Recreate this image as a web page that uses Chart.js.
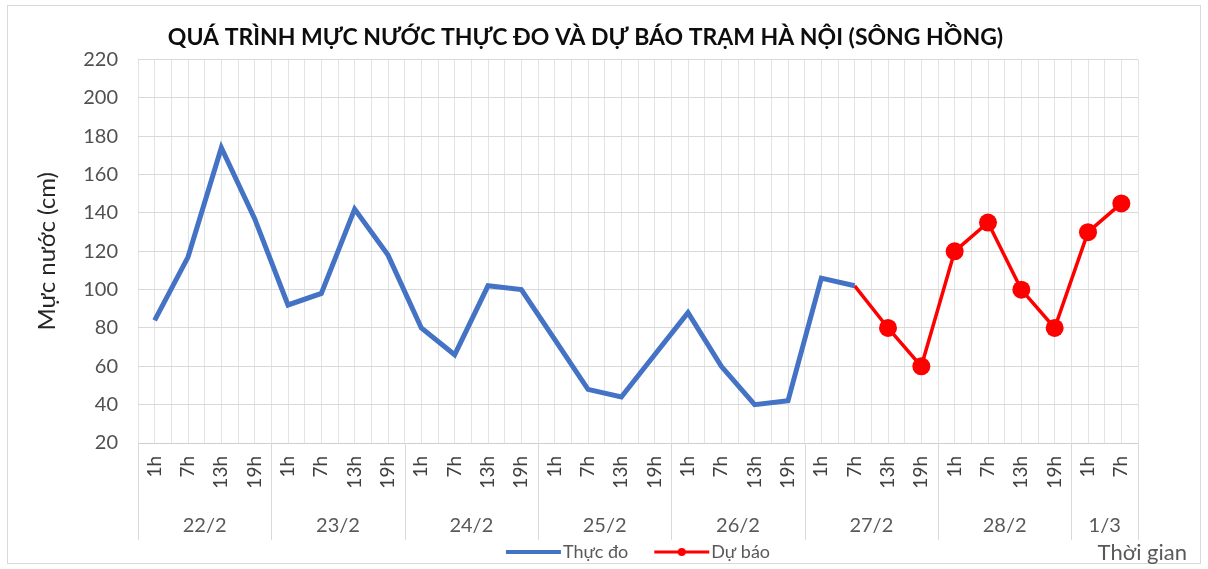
<!DOCTYPE html>
<html>
<head>
<meta charset="utf-8">
<script src="https://cdn.jsdelivr.net/npm/chart.js@4.4.0/dist/chart.umd.min.js"></script>
<style>
  html, body { margin: 0; padding: 0; background: #fff; }
  #wrap { width: 1208px; height: 569px; }
</style>
</head>
<body>
<div id="wrap"><canvas id="line"></canvas></div>
<script>
// days on the lower axis row, and how many hour slots each one has
const days = ["22/2", "23/2", "24/2", "25/2", "26/2", "27/2", "28/2", "1/3"];
const hoursPerDay = [4, 4, 4, 4, 4, 4, 4, 2];
const hours = ["1h", "7h", "13h", "19h"];

// water level (cm)
const measured = [84, 117, 174, 137, 92, 98, 142, 118, 80, 66, 102, 100,
                  74, 48, 44, 66, 88, 60, 40, 42, 106, 102];
// forecast starts at the last measured point (27/2 7h)
const forecast = [102, 80, 60, 120, 135, 100, 80, 130, 145];

const yMin = 20, yMax = 220, yStep = 20;

const seriesNames = ["Thực đo", "Dự báo"];
const colors = ["#4472C4", "#FF0000"];

const labels = [];
days.forEach((d, i) => {
  for (let h = 0; h < hoursPerDay[i]; h++) labels.push(hours[h]);
});
const forecastData = new Array(measured.length - 1).fill(null).concat(forecast);

const FONT = "Lato, 'Open Sans', sans-serif";

const excelLook = {
  id: "excelLook",
  beforeDraw: (chart) => {
    const {ctx, width, height} = chart;
    ctx.save();
    ctx.fillStyle = "#fff";
    ctx.fillRect(0, 0, width, height);
    ctx.strokeStyle = "#d9d9d9";
    ctx.lineWidth = 1;
    ctx.strokeRect(7.5, 5.5, width - 15, height - 11);
    ctx.restore();
  },
  afterDraw: (chart) => {
    const {ctx, chartArea} = chart;
    const x = chart.scales.x;
    const w = (x.right - x.left) / labels.length;
    const base = chartArea.bottom;
    ctx.save();

    // group separators and day labels
    ctx.strokeStyle = "#d9d9d9";
    ctx.lineWidth = 1;
    ctx.fillStyle = "#595959";
    ctx.font = "20px " + FONT;
    ctx.textAlign = "center";
    ctx.textBaseline = "middle";
    let k = 0;
    const edges = [0];
    days.forEach((d, i) => {
      const x0 = x.left + k * w;
      k += hoursPerDay[i];
      const x1 = x.left + k * w;
      edges.push(k);
      ctx.fillText(d, (x0 + x1) / 2, base + 83);
    });
    edges.forEach(e => {
      const px = Math.round(x.left + e * w) + 0.5;
      ctx.beginPath();
      ctx.moveTo(px, base);
      ctx.lineTo(px, base + 97);
      ctx.stroke();
    });

    // legend
    ctx.font = "18px " + FONT;
    ctx.textAlign = "left";
    const lineLen = 55, gap = 26;
    const tw = seriesNames.map(s => ctx.measureText(s).width);
    const total = lineLen * 2 + tw[0] + tw[1] + gap + 4;
    let lx = (chartArea.left + chartArea.right) / 2 - total / 2;
    const ly = base + 109;
    seriesNames.forEach((s, i) => {
      ctx.strokeStyle = colors[i];
      ctx.lineWidth = i === 0 ? 4 : 3;
      ctx.beginPath();
      ctx.moveTo(lx, ly);
      ctx.lineTo(lx + lineLen, ly);
      ctx.stroke();
      if (i === 1) {
        ctx.fillStyle = colors[i];
        ctx.beginPath();
        ctx.arc(lx + lineLen / 2, ly, 4, 0, Math.PI * 2);
        ctx.fill();
      }
      ctx.fillStyle = "#595959";
      ctx.fillText(s, lx + lineLen + 2, ly);
      lx += lineLen + 2 + tw[i] + gap;
    });

    // axis name at the bottom right
    ctx.font = "22px " + FONT;
    ctx.textAlign = "right";
    ctx.fillText("Thời gian", chartArea.right + 49, base + 110);
    ctx.restore();
  }
};

new Chart(document.getElementById("line"), {
  type: "line",
  data: {
    labels: labels,
    datasets: [
      {
        label: seriesNames[0],
        data: measured,
        borderColor: colors[0],
        backgroundColor: colors[0],
        borderWidth: 5,
        pointRadius: 0,
        tension: 0,
      },
      {
        label: seriesNames[1],
        data: forecastData,
        borderColor: colors[1],
        backgroundColor: colors[1],
        borderWidth: 3.5,
        pointRadius: (c) => (c.dataIndex === measured.length - 1 ? 0 : 9),
        pointBorderWidth: 0,
        pointBackgroundColor: colors[1],
        tension: 0,
      },
    ],
  },
  plugins: [excelLook],
  options: {
    responsive: true,
    maintainAspectRatio: false,
    animation: false,
    layout: {
      padding: {top: 14, left: 33, right: 70, bottom: 26},
    },
    plugins: {
      legend: {display: false},
      tooltip: {enabled: false},
      title: {
        display: true,
        text: "QUÁ TRÌNH MỰC NƯỚC THỰC ĐO VÀ DỰ BÁO TRẠM HÀ NỘI (SÔNG HỒNG)",
        color: "#0d0d0d",
        font: {size: 23, weight: "bold", family: FONT},
        padding: {top: 10, bottom: 8},
      },
    },
    scales: {
      x: {
        type: "category",
        offset: true,
        grid: {offset: true, color: "#e3e3e3", drawTicks: false},
        border: {color: "#cfcfcf"},
        ticks: {
          autoSkip: false,
          maxRotation: 90,
          minRotation: 90,
          padding: 13,
          color: "#404040",
          font: {size: 19, family: FONT},
        },
        afterFit: (s) => { s.height = 100; },
      },
      x2: {
        type: "category",
        position: "top",
        offset: true,
        grid: {offset: false, color: "#e3e3e3", drawTicks: false},
        border: {display: false},
        ticks: {display: false},
        afterFit: (s) => { s.height = 0; },
      },
      y: {
        min: yMin,
        max: yMax,
        ticks: {
          stepSize: yStep,
          padding: 20,
          color: "#505050",
          font: {size: 20, family: FONT},
        },
        grid: {color: "#d9d9d9", drawTicks: false},
        border: {display: false},
        title: {
          display: true,
          text: "Mực nước (cm)",
          color: "#262626",
          font: {size: 24, family: FONT},
          padding: {top: 0, bottom: 0},
        },
        afterFit: (s) => { s.width = 105; },
      },
    },
  },
});
</script>
</body>
</html>
